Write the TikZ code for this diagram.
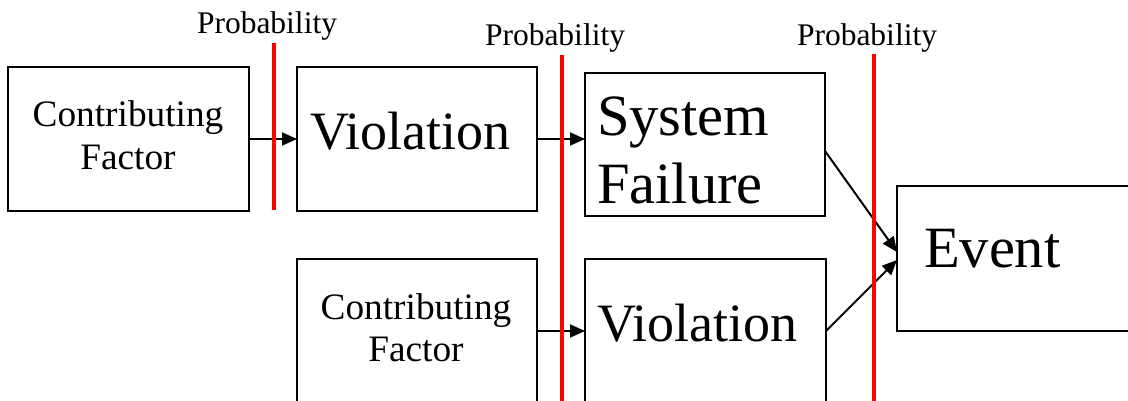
\documentclass[tikz,border=0pt]{standalone}
\usepackage{fontspec}
\setmainfont{Liberation Serif}
\usetikzlibrary{arrows.meta}
\tikzset{
  boxnode/.style={draw=black, line width=2pt, rectangle, inner sep=0pt, outer sep=0pt, anchor=north west},
  txt/.style={inner sep=0pt, outer sep=0pt},
  arr/.style={draw=black, line width=2pt, -{Triangle[length=15pt,width=13pt]}},
  probline/.style={draw=red, line width=4pt},
  fprob/.style={font=\fontsize{31.5}{36}\selectfont},
  fcf/.style={font=\fontsize{37.3}{42}\selectfont},
  fviol/.style={font=\fontsize{54}{62}\selectfont},
  fbig/.style={font=\fontsize{58.5}{66}\selectfont},
}
\begin{document}
\begin{tikzpicture}[x=1pt,y=-1pt]
\useasboundingbox (0,0) rectangle (1128,401);
% boxes
\node[boxnode, minimum width=241pt, minimum height=144pt] (cf1) at (8,67) {};
\node[boxnode, minimum width=240pt, minimum height=144pt] (v1) at (297,67) {};
\node[boxnode, minimum width=240pt, minimum height=143pt] (sf) at (585,73) {};
\node[boxnode, minimum width=250pt, minimum height=145pt] (ev) at (897,186) {};
\node[boxnode, minimum width=240pt, minimum height=144pt] (cf2) at (297,259) {};
\node[boxnode, minimum width=241pt, minimum height=144pt] (v2) at (585,259) {};
% texts
\node[txt, fcf, anchor=base] (t1a) at (128,127) {Contributing};
\node[txt, fcf, anchor=base] (t1b) at (128,170) {Factor};
\node[txt, fviol, anchor=base west] (t2) at (310,150) {Violation};
\node[txt, fbig, anchor=base west] (t3a) at (597,136) {System};
\node[txt, fbig, anchor=base west] (t3b) at (597,204) {Failure};
\node[txt, fbig, anchor=base west] (t4) at (924,267) {Event};
\node[txt, fcf, anchor=base] (t5a) at (416,319) {Contributing};
\node[txt, fcf, anchor=base] (t5b) at (416,361) {Factor};
\node[txt, fviol, anchor=base west] (t6) at (597,341) {Violation};
% connectors
\draw[arr] (cf1.east) -- (v1.west);
\draw[arr] (v1.east) -- (v1.east -| sf.west);
\draw[arr] (cf2.east) -- (v2.west);
\draw[arr] ([yshift=-6.5pt]sf.east) -- ([yshift=6.5pt]ev.west);
\draw[arr] (v2.east) -- ([yshift=-1.5pt]ev.west);
% probability lines
\draw[probline] (273.5,43) -- (273.5,210);
\draw[probline] (562,55) -- (562,405);
\draw[probline] (873.5,54) -- (873.5,405);
\node[txt, fprob, anchor=base] (p1) at (267,34) {Probability};
\node[txt, fprob, anchor=base] (p2) at (555,46) {Probability};
\node[txt, fprob, anchor=base] (p3) at (867,46) {Probability};
\end{tikzpicture}
\end{document}
